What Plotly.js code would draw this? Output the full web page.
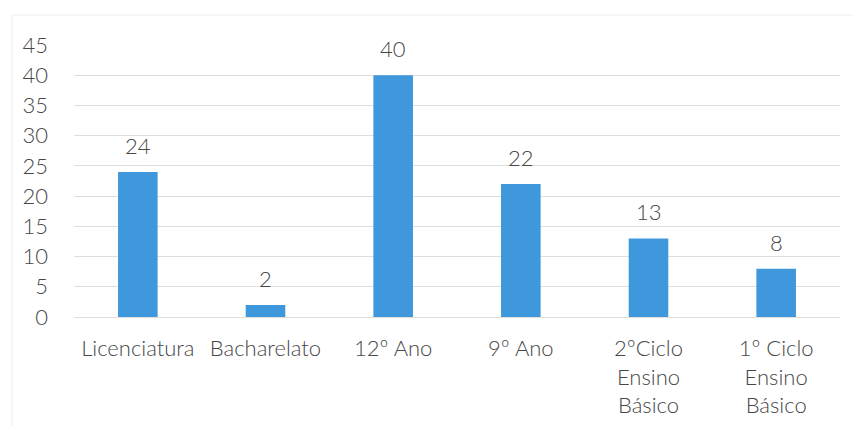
<!DOCTYPE html>
<html>
<head>
<meta charset="utf-8">
<script src="https://cdn.plot.ly/plotly-3.0.1.min.js"></script>
<style>html,body{margin:0;padding:0;background:#fff;}#chart{width:854px;height:431px;}</style>
</head>
<body>
<div id="chart"></div>
<script>
const categories = ["Licenciatura", "Bacharelato", "12º Ano", "9º Ano", "2ºCiclo<br>Ensino<br>Básico", "1º Ciclo<br>Ensino<br>Básico"];
const values = [24, 2, 40, 22, 13, 8];
const yTicks = [0, 5, 10, 15, 20, 25, 30, 35, 40, 45];

const textColor = "#474747";
const fontFam = "Lato, 'Open Sans', sans-serif";
const fs = 22;
const fw = 300;

const trace = {
  type: "bar",
  x: categories,
  y: values,
  marker: {color: "#3f97dc"},
  hoverinfo: "skip"
};

const labelAnnotations = values.map((v, i) => ({
  x: categories[i],
  y: v,
  xref: "x",
  yref: "y",
  text: String(v),
  showarrow: false,
  yanchor: "bottom",
  yshift: 11,
  font: {family: fontFam, size: fs, color: textColor, weight: fw}
}));

const layout = {
  width: 854,
  height: 431,
  margin: {l: 74, r: 14, t: 45, b: 114},
  paper_bgcolor: "#ffffff",
  plot_bgcolor: "#ffffff",
  bargap: 0.69,
  showlegend: false,
  font: {family: fontFam, size: fs, color: textColor, weight: fw},
  xaxis: {
    type: "category",
    tickfont: {family: fontFam, size: fs, color: textColor, weight: fw},
    showgrid: false,
    zeroline: false,
    showline: false,
    ticks: "",
    ticklabelstandoff: 16
  },
  yaxis: {
    range: [0, 45],
    tickvals: yTicks,
    ticktext: yTicks.map(String),
    tickfont: {family: fontFam, size: fs, color: textColor, weight: fw},
    showgrid: true,
    gridcolor: "#dedede",
    gridwidth: 1,
    zeroline: true,
    zerolinecolor: "#dedede",
    showline: false,
    ticks: "",
    ticklabelstandoff: 25
  },
  annotations: labelAnnotations,
  shapes: [
    {type: "line", xref: "paper", yref: "paper", x0: -0.081, x1: 1.016, y0: 1.11, y1: 1.11, line: {color: "#ececec", width: 1}},
    {type: "line", xref: "paper", yref: "paper", x0: -0.081, x1: -0.081, y0: 1.11, y1: -0.4, line: {color: "#ececec", width: 1}}
  ]
};

Plotly.newPlot("chart", [trace], layout, {staticPlot: true, displayModeBar: false});
</script>
</body>
</html>
